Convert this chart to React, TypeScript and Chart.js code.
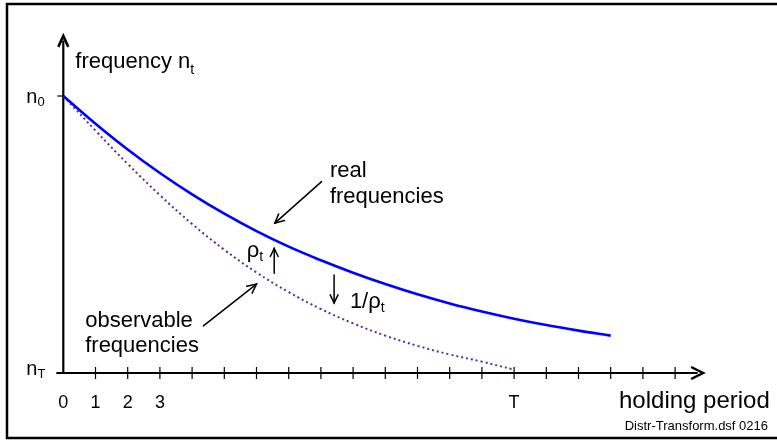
import React, { useEffect, useRef } from 'react';
import { Chart, registerables } from 'chart.js';

Chart.register(...registerables);

// ---- data ----
const realPeriods = [0, 1, 2, 3, 4, 5, 6, 7, 8, 9, 10, 11, 12, 13, 14, 15, 16, 17];
const realFrequencies = [100, 90, 80.7, 72.2, 64.5, 57.5, 51.2, 45.6, 40.7, 36.2, 32.1, 28.4, 25.1, 22.2, 19.6, 17.3, 15.3, 13.5];
const observablePeriods = [0, 1, 2, 3, 4, 5, 6, 7, 8, 9, 10, 11, 12, 13, 14];
const observableFrequencies = [100, 87.5, 75.5, 64.2, 53.8, 44.5, 36.3, 29.2, 23.1, 17.9, 13.5, 9.8, 6.7, 4.1, 1.2];
const xTickMarks = [1, 2, 3, 4, 5, 6, 7, 8, 9, 10, 11, 12, 13, 14, 15, 16, 17, 18, 19];
const xLabelValues = [0, 1, 2, 3, 14];
const xLabelTexts = ['0', '1', '2', '3', 'T'];
const yLabelValues = [100, 0];
const yLabelSubs = ['0', 'T'];

const FONT = '"Liberation Sans", Arial, Helvetica, sans-serif';
const BLUE = '#0000ff';
const PURPLE = '#5a2a9c';

function drawSub(ctx: CanvasRenderingContext2D, main: string, sub: string, x: number, y: number, size: number, subSize: number, dy: number) {
  ctx.font = `${size}px ${FONT}`;
  ctx.textAlign = 'left';
  ctx.textBaseline = 'alphabetic';
  ctx.fillText(main, x, y);
  const w = ctx.measureText(main).width;
  ctx.font = `${subSize}px ${FONT}`;
  ctx.fillText(sub, x + w, y + dy);
}

function arrow(ctx: CanvasRenderingContext2D, x1: number, y1: number, x2: number, y2: number, head: number, lw: number) {
  ctx.save();
  ctx.lineWidth = lw;
  ctx.strokeStyle = '#000';
  ctx.lineCap = 'round';
  ctx.beginPath();
  ctx.moveTo(x1, y1);
  ctx.lineTo(x2, y2);
  ctx.stroke();
  const a = Math.atan2(y2 - y1, x2 - x1);
  const s = 0.45;
  ctx.beginPath();
  ctx.moveTo(x2 - head * Math.cos(a - s), y2 - head * Math.sin(a - s));
  ctx.lineTo(x2, y2);
  ctx.lineTo(x2 - head * Math.cos(a + s), y2 - head * Math.sin(a + s));
  ctx.stroke();
  ctx.restore();
}

const decorPlugin = {
  id: 'decor',
  beforeDatasetsDraw(chart: any) {
    const ctx: CanvasRenderingContext2D = chart.ctx;
    const xs = chart.scales.x;
    const ys = chart.scales.y;
    const X = (v: number) => xs.getPixelForValue(v);
    const Y = (v: number) => ys.getPixelForValue(v);
    ctx.save();
    // frame
    ctx.strokeStyle = '#000';
    ctx.lineWidth = 2.5;
    ctx.strokeRect(7, 4, 800, 434);
    // axes
    const x0 = X(0), y0 = Y(0);
    ctx.lineWidth = 2.2;
    ctx.beginPath();
    ctx.moveTo(x0, y0 + 1);
    ctx.lineTo(x0, Y(120));
    ctx.stroke();
    ctx.beginPath();
    ctx.moveTo(x0 - 7, y0);
    ctx.lineTo(X(19.7), y0);
    ctx.stroke();
    // arrow heads
    ctx.lineWidth = 2.5;
    ctx.lineJoin = 'miter';
    const tipY = Y(121.7);
    ctx.beginPath();
    ctx.moveTo(x0 - 5, tipY + 11);
    ctx.lineTo(x0, tipY);
    ctx.lineTo(x0 + 5, tipY + 11);
    ctx.stroke();
    const tipX = X(19.87);
    ctx.beginPath();
    ctx.moveTo(tipX - 12, y0 - 6);
    ctx.lineTo(tipX, y0);
    ctx.lineTo(tipX - 12, y0 + 6);
    ctx.stroke();
    // ticks on x axis
    ctx.lineWidth = 1.2;
    xTickMarks.forEach((t) => {
      ctx.beginPath();
      ctx.moveTo(X(t), y0 - 6);
      ctx.lineTo(X(t), y0 + 6);
      ctx.stroke();
    });
    // n0 tick
    ctx.beginPath();
    ctx.moveTo(x0 - 6, Y(100));
    ctx.lineTo(x0, Y(100));
    ctx.stroke();
    ctx.restore();
  },
  afterDraw(chart: any) {
    const ctx: CanvasRenderingContext2D = chart.ctx;
    const xs = chart.scales.x;
    const ys = chart.scales.y;
    const X = (v: number) => xs.getPixelForValue(v);
    const Y = (v: number) => ys.getPixelForValue(v);
    ctx.save();
    ctx.fillStyle = '#000';
    const x0 = X(0);
    // x labels
    ctx.font = `18px ${FONT}`;
    ctx.textAlign = 'center';
    ctx.textBaseline = 'alphabetic';
    xLabelValues.forEach((v, i) => ctx.fillText(xLabelTexts[i], X(v), Y(0) + 35));
    // y labels
    drawSub(ctx, 'n', yLabelSubs[0], x0 - 37, Y(yLabelValues[0]) + 7, 20, 13, 3);
    drawSub(ctx, 'n', yLabelSubs[1], x0 - 37, Y(yLabelValues[1]) + 2, 20, 13, 3);
    // axis titles
    drawSub(ctx, 'frequency n', 't', x0 + 12, Y(110.1), 22, 14, 6);
    ctx.font = `24px ${FONT}`;
    ctx.textAlign = 'left';
    ctx.fillText('holding period', 619, Y(0) + 35);
    ctx.font = `13px ${FONT}`;
    ctx.textAlign = 'right';
    ctx.fillText('Distr-Transform.dsf 0216', 768, 430);
    // annotations
    ctx.textAlign = 'left';
    ctx.font = `22px ${FONT}`;
    ctx.fillText('real', X(8.28), Y(70.9));
    ctx.fillText('frequencies', X(8.28), Y(61.5));
    ctx.fillText('observable', X(0.68), Y(16.5));
    ctx.fillText('frequencies', X(0.68), Y(7.7));
    drawSub(ctx, '\u03c1', 't', X(5.7), Y(41.9), 22, 14, 4);
    drawSub(ctx, '1/\u03c1', 't', X(8.9), Y(23.3), 22, 14, 4);
    arrow(ctx, X(8.02), Y(69.1), X(6.57), Y(54.1), 10, 1.5);
    arrow(ctx, X(4.35), Y(17), X(6.0), Y(32.1), 10, 1.5);
    arrow(ctx, X(6.55), Y(36.0), X(6.55), Y(45.0), 9, 1.5);
    arrow(ctx, X(8.41), Y(35.4), X(8.41), Y(25.3), 9, 1.5);
    ctx.restore();
  },
};

export default function App() {
  const ref = useRef<HTMLCanvasElement | null>(null);
  useEffect(() => {
    if (!ref.current) return;
    const chart = new Chart(ref.current, {
      type: 'line',
      data: {
        datasets: [
          {
            label: 'real frequencies',
            data: realPeriods.map((t, i) => ({ x: t, y: realFrequencies[i] })),
            borderColor: BLUE,
            borderWidth: 2.6,
            pointRadius: 0,
            tension: 0.4,
            fill: false,
          },
          {
            label: 'observable frequencies',
            data: observablePeriods.map((t, i) => ({ x: t, y: observableFrequencies[i] })),
            borderColor: PURPLE,
            borderWidth: 2,
            borderDash: [2, 3],
            pointRadius: 0,
            tension: 0.4,
            fill: false,
          },
        ],
      },
      options: {
        animation: false,
        responsive: false,
        devicePixelRatio: 1,
        clip: false,
        layout: { padding: { left: 63.3, right: 69.7, top: 96, bottom: 70 } },
        plugins: { legend: { display: false }, tooltip: { enabled: false } },
        scales: {
          x: { type: 'linear', min: 0, max: 20, display: false },
          y: { type: 'linear', min: 0, max: 100, display: false },
        },
      } as any,
      plugins: [decorPlugin],
    });
    return () => chart.destroy();
  }, []);
  return (
    <div style={{ position: 'fixed', left: 0, top: 0, width: 777, height: 443, background: '#fff' }}>
      <canvas ref={ref} width={777} height={443} style={{ display: 'block' }} />
    </div>
  );
}
